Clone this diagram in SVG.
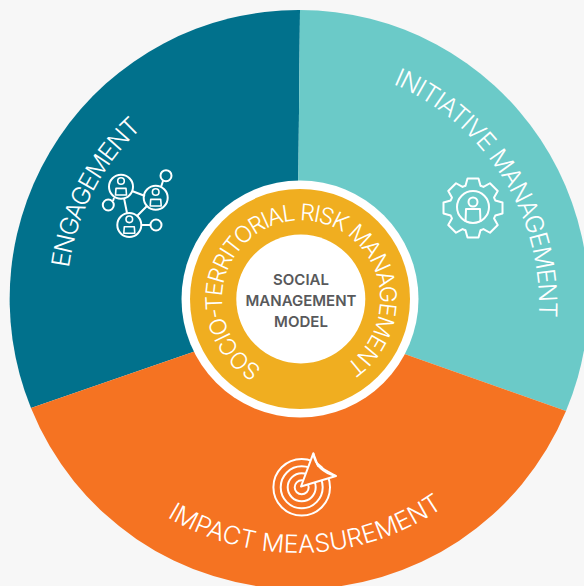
<svg xmlns="http://www.w3.org/2000/svg" width="584" height="586" viewBox="0 0 584 586">
<style>
.lab{font-family:"Inter","Liberation Sans",sans-serif;font-weight:300;fill:#fff}
.ic{fill:none;stroke:#fff;stroke-width:2;stroke-linejoin:round}
.pp{stroke-width:1.600}
.mid{font-family:"Inter","Liberation Sans",sans-serif;font-weight:600;font-size:15px;fill:#58595b;text-anchor:middle}
</style>
<defs>
<path id="pe" d="M69,268A230,230 0 0 1 142,128"/>
<path id="pi" d="M393,84A241,241 0 0 1 539,312"/>
<path id="pm" d="M167,517A255,255 0 0 0 442,508"/>
<path id="pr" d="M262,368A79,79 0 1 1 345,365"/>
<g id="person" class="pp"><circle cx="0" cy="-5.700" r="3.300"/><path d="M-5.500,8.300L-5,1.700H5L5.500,8.300Z"/></g>
<polyline id="tooth" points="-9,-21.7 -7.500,-22.300 -5.500,-29.500 5.500,-29.500 7.500,-22.300 9,-21.700"/>
</defs>
<rect width="584" height="586" fill="#f7f7f7"/>
<g id="engagement">
<path fill="#01718c" d="M297,316L31,408A289,289 0 0 1 300,10Z"/>
<text class="lab" font-size="25"><textPath href="#pe" textLength="161">ENGAGEMENT</textPath></text>
<g class="ic">
<path d="M132,191L145,196M161,187L163,181M124,198L127,213M147,206L137,216M113,201L114,198M141,225L150,225"/>
<circle cx="121" cy="186.700" r="12"/><circle cx="155.700" cy="197.700" r="12"/><circle cx="129.300" cy="225" r="12"/>
<circle cx="166" cy="175.700" r="5.500"/><circle cx="108.300" cy="205" r="5.500"/><circle cx="156" cy="225" r="5.500"/>
<use href="#person" x="121" y="186.700"/><use href="#person" x="155.700" y="197.700"/><use href="#person" x="129.300" y="225"/>
</g>
</g>
<g id="initiative-management">
<path fill="#6bcac8" d="M297,316L300,10A289,289 0 0 1 566,411Z"/>
<text class="lab" font-size="25"><textPath href="#pi" textLength="293">INITIATIVE MANAGEMENT</textPath></text>
<g class="ic" transform="translate(473,208)">
<use href="#tooth"/><use href="#tooth" transform="rotate(45)"/><use href="#tooth" transform="rotate(90)"/><use href="#tooth" transform="rotate(135)"/><use href="#tooth" transform="rotate(180)"/><use href="#tooth" transform="rotate(225)"/><use href="#tooth" transform="rotate(270)"/><use href="#tooth" transform="rotate(315)"/>
<circle cx="0" cy="-1" r="16"/>
<circle cx="0" cy="-6" r="4.500"/><path d="M-7.500,14L-7,1H7L7.500,14"/>
</g>
</g>
<g id="impact-measurement">
<path fill="#f57322" d="M297,316L566,411A289,289 0 0 1 31,408Z"/>
<text class="lab" font-size="25"><textPath href="#pm" textLength="292">IMPACT MEASUREMENT</textPath></text>
<g class="ic">
<circle cx="301.700" cy="487.300" r="28.300"/><circle cx="301.700" cy="487.300" r="21"/><circle cx="301.700" cy="487.300" r="14"/><circle cx="301.700" cy="487.300" r="7"/>
<path style="fill:#f57322" d="M301,486.500L313.300,453.300Q316,471 336,476Z"/>
<path d="M313.300,453.300L318,466L336,476"/>
</g>
</g>
<g id="socio-territorial-risk-management">
<circle cx="300" cy="299" r="118.500" fill="#fff"/>
<circle cx="300" cy="299" r="110" fill="#f0ae20"/>
<text class="lab" font-size="23"><textPath href="#pr" textLength="408">SOCIO-TERRITORIAL RISK MANAGEMENT</textPath></text>
</g>
<g id="social-management-model">
<circle cx="300.800" cy="299" r="64.500" fill="#fff"/>
<text class="mid" x="301" y="285">SOCIAL</text>
<text class="mid" x="301" y="306">MANAGEMENT</text>
<text class="mid" x="301" y="327">MODEL</text>
</g>
</svg>
